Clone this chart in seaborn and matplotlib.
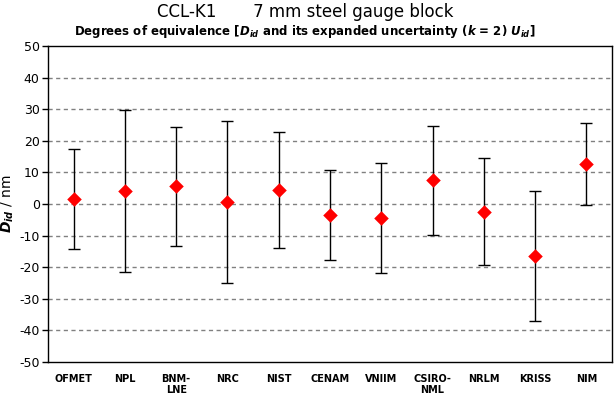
import matplotlib
matplotlib.use("Agg")
import matplotlib.pyplot as plt
import seaborn as sns
import pandas as pd
import numpy as np

labs = ["OFMET", "NPL", "BNM-\nLNE", "NRC", "NIST", "CENAM", "VNIIM",
        "CSIRO-\nNML", "NRLM", "KRISS", "NIM"]
D = [1.6, 4.1, 5.6, 0.6, 4.5, -3.5, -4.4, 7.5, -2.5, -16.5, 12.7]
U = [15.7, 25.7, 18.9, 25.7, 18.3, 14.3, 17.5, 17.3, 16.9, 20.6, 13.0]
yticks = list(range(-50, 51, 10))

sns.set_theme(style="white")
plt.rcParams['font.family'] = ['DejaVu Sans']
plt.rcParams['text.color'] = 'black'
plt.rcParams['axes.labelcolor'] = 'black'
plt.rcParams['xtick.color'] = 'black'
plt.rcParams['ytick.color'] = 'black'
plt.rcParams['mathtext.fontset'] = 'custom'
plt.rcParams['mathtext.it'] = 'DejaVu Sans:italic:bold'
plt.rcParams['mathtext.rm'] = 'DejaVu Sans:bold'

df = pd.DataFrame({"lab": labs, "D": D, "U": U, "x": np.arange(len(labs))})

fig = plt.figure(figsize=(6.16, 3.97), dpi=100)
ax = fig.add_axes([48/616, 1-362/397, (612-48)/616, (362-46)/397])

for yv in yticks[1:-1]:
    ax.axhline(yv, color="#808080", lw=1, ls=(0, (3, 2.5)), zorder=0)

ax.errorbar(df["x"], df["D"], yerr=df["U"], fmt="none", ecolor="black",
            elinewidth=1, capsize=4, capthick=1, zorder=2)
sns.scatterplot(data=df, x="x", y="D", marker="D", color="red", s=55,
                edgecolor="red", linewidth=0, ax=ax, zorder=3)

ax.set_xlim(-0.5, len(labs) - 0.5)
ax.set_ylim(-50, 50)
ax.set_yticks(yticks)
ax.set_yticklabels([str(v) for v in yticks], fontsize=9)
ax.set_xticks(df["x"])
ax.set_xticklabels(labs, fontsize=7, fontweight="bold", va="top", linespacing=1.05)
ax.set_xticks(np.arange(-0.5, len(labs), 1), minor=True)
ax.tick_params(axis="x", which="major", length=0, pad=9)
ax.tick_params(axis="x", which="minor", length=4, width=1, direction="out", color="black")
ax.tick_params(axis="y", length=4, width=1, direction="out", color="black", pad=2, left=True)
for s in ax.spines.values():
    s.set_color("black")
    s.set_linewidth(1)
ax.set_xlabel("")
ax.set_ylabel(r"$D_{id}$ / nm", fontsize=10, labelpad=2)

fig.text(0.495, 0.97, "CCL-K1       7 mm steel gauge block", ha="center", va="center", fontsize=12)
fig.text(0.495, 0.92,
         r"Degrees of equivalence [$D_{id}$ and its expanded uncertainty ($k$ = 2) $U_{id}$]",
         ha="center", va="center", fontsize=8.5, fontweight="bold")

fig.savefig("out.png", dpi=100)
